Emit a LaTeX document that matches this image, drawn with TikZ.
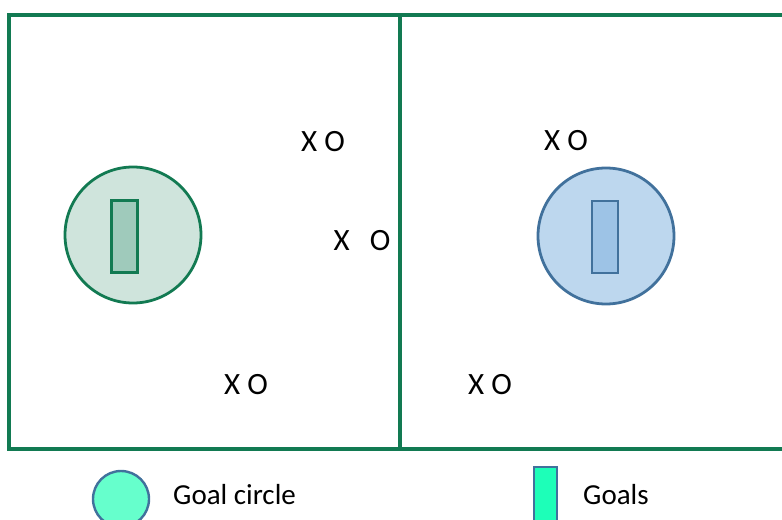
\documentclass[tikz,border=0pt]{standalone}
\usepackage{fontspec}
\setmainfont{Carlito}
\definecolor{fieldgreen}{HTML}{127A52}
\definecolor{gcfill}{HTML}{CFE4DC}
\definecolor{grfill}{HTML}{9FCABB}
\definecolor{bstroke}{HTML}{41719C}
\definecolor{bcfill}{HTML}{BDD7EE}
\definecolor{brfill}{HTML}{9DC3E6}
\definecolor{lcfill}{HTML}{66FFCC}
\definecolor{lrfill}{HTML}{1DFFB8}
\tikzset{
  fieldline/.style={draw=fieldgreen, line width=3.2bp},
  player/.style={font=\fontsize{31bp}{36bp}\selectfont, inner sep=0pt, text=black},
  legendtext/.style={font=\fontsize{29bp}{34bp}\selectfont, inner sep=0pt, anchor=west, text=black},
  goalcircle/.style={circle, inner sep=0pt, minimum size=136bp, line width=2.8bp},
  goalrect/.style={rectangle, inner sep=0pt, minimum width=26bp, minimum height=72bp, line width=2.8bp},
}
\begin{document}
\begin{tikzpicture}[x=1bp,y=-1bp]
\useasboundingbox (0,0) rectangle (782,520);
\begin{scope}
\clip (0,0) rectangle (782,520);
% field
\draw[fieldline] (795,15) -- (9,15) -- (9,449) -- (795,449);
\draw[fieldline] (400,15) -- (400,449);
% goal circles
\node[goalcircle, draw=fieldgreen, fill=gcfill] (lc) at (133,235) {};
\node[goalrect, draw=fieldgreen, fill=grfill] (lg) at (124.5,236.5) {};
\node[goalcircle, draw=bstroke, fill=bcfill] (rc) at (606,236) {};
\node[goalrect, draw=bstroke, fill=brfill] (rg) at (605,237) {};
% players
\node[player] (p1) at (323,142) {X O};
\node[player] (p2) at (566,141) {X O};
\node[player] (p3) at (362,241) {X\hspace{13bp} O};
\node[player] (p4) at (246,385) {X O};
\node[player] (p5) at (490,385) {X O};
% legend
\node[circle, inner sep=0pt, minimum size=56bp, draw=bstroke, fill=lcfill, line width=2.4bp] (legc) at (121,499) {};
\node[legendtext] (legct) at (173,495) {Goal circle};
\node[rectangle, inner sep=0pt, minimum width=23bp, minimum height=70bp, draw=bstroke, fill=lrfill, line width=2.4bp] (legr) at (545.5,502) {};
\node[legendtext] (legrt) at (583,495) {Goals};
\end{scope}
\end{tikzpicture}
\end{document}
